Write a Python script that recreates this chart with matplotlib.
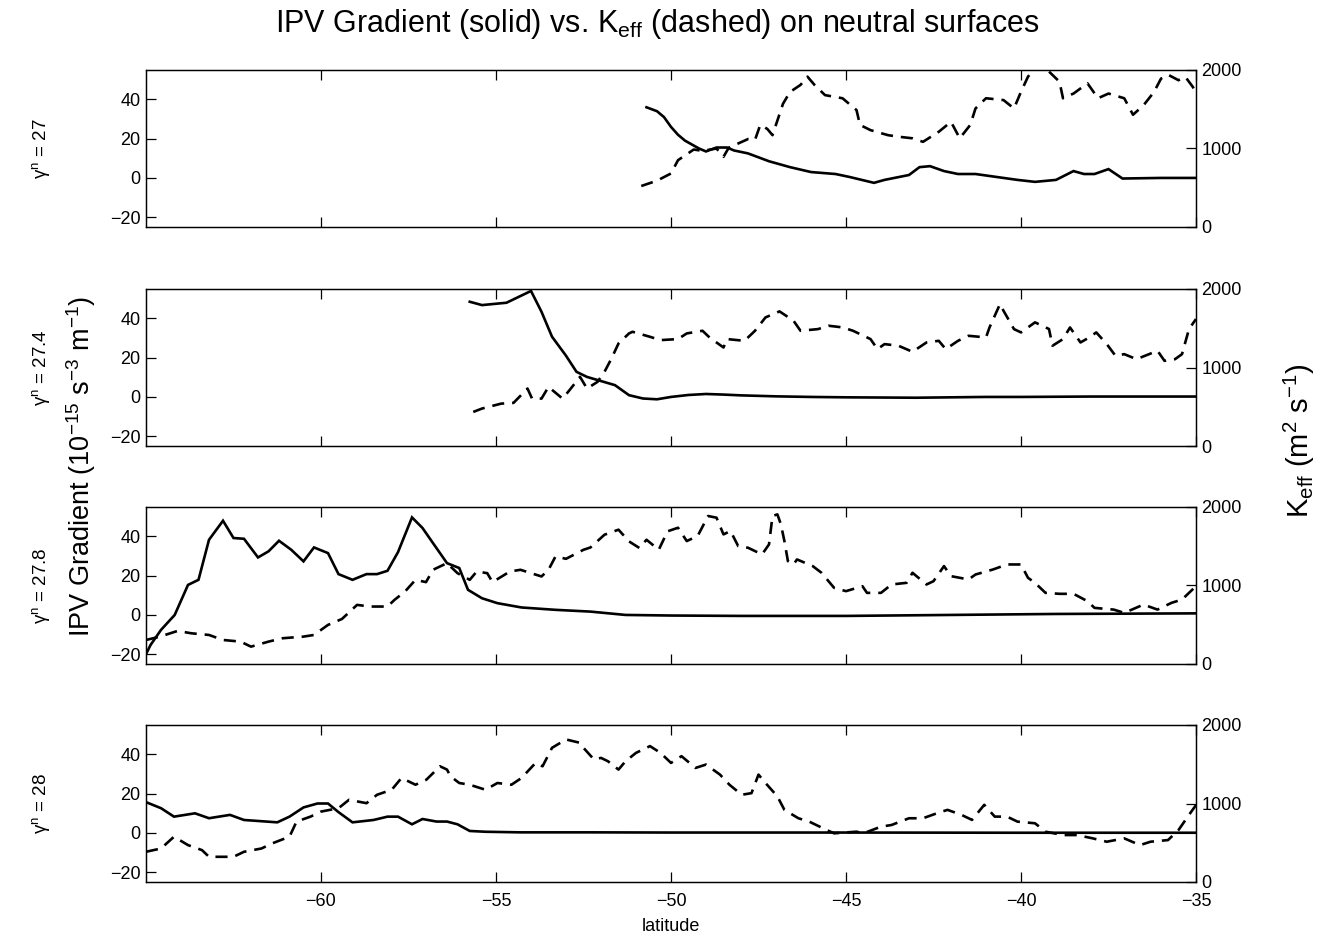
import matplotlib
matplotlib.use("Agg")
import matplotlib.pyplot as plt

plt.rcParams['font.family'] = ['Liberation Sans', 'DejaVu Sans']
plt.rcParams['mathtext.fontset'] = 'custom'
plt.rcParams['mathtext.rm'] = 'Liberation Sans'
plt.rcParams['mathtext.it'] = 'Liberation Sans:italic'
plt.rcParams['mathtext.bf'] = 'Liberation Sans:bold'

# ---------------- data ----------------
surface_labels = ['27', '27.4', '27.8', '28']

# gamma^n = 27
ipv27_lat = [-50.7, -50.4, -50.2, -50.0, -49.8, -49.6, -49.4, -49.2, -49.0, -48.7, -48.4, -48.2,
             -47.8, -47.2, -46.6, -46.0, -45.3, -44.9, -44.2, -43.9, -43.2, -42.9, -42.6, -42.2,
             -41.8, -41.3, -40.7, -40.1, -39.6, -39.0, -38.5, -38.2, -37.9, -37.5, -37.1, -36.0, -35.0]
ipv27 = [36, 34, 31, 26, 22, 19, 17, 15, 13.5, 15.5, 15.5, 14,
         12.5, 8.5, 5.5, 3, 2, 0.5, -2.5, -1, 1.5, 5.5, 6, 3.5,
         2, 2, 0.5, -1, -2, -1, 3.5, 2, 2, 4.5, -0.3, 0, 0]
keff27_lat = [-50.85, -50.4, -50.0, -49.8, -49.35, -49.1, -48.7, -48.5, -48.35, -48.0, -47.8, -47.6,
              -47.45, -47.25, -47.1, -46.8, -46.6, -46.3, -46.1, -45.9, -45.6, -45.1, -44.7, -44.6,
              -44.3, -43.8, -43.5, -43.1, -42.8, -42.35, -42.0, -41.75, -41.45, -41.3, -41.0, -40.5,
              -40.2, -40.0, -39.8, -39.5, -39.2, -38.9, -38.8, -38.5, -38.1, -37.8, -37.5, -37.05,
              -36.8, -36.5, -36.2, -36.0, -35.8, -35.5, -35.3, -35.1, -35.0]
keff27 = [522, 590, 682, 851, 987, 970, 1000, 894, 1010, 1080, 1120, 1110,
          1300, 1250, 1170, 1570, 1720, 1810, 1915, 1810, 1680, 1640, 1490, 1300,
          1234, 1170, 1150, 1130, 1085, 1213, 1340, 1130, 1300, 1510, 1640, 1617,
          1510, 1723, 1915, 2080, 1980, 1850, 1640, 1700, 1830, 1640, 1700, 1640,
          1430, 1550, 1720, 1890, 1940, 1870, 1910, 1790, 1720]

# gamma^n = 27.4
ipv274_lat = [-55.75, -55.4, -54.7, -54.0, -53.7, -53.4, -53.0, -52.7, -52.4, -51.6, -51.2, -50.8,
              -50.4, -50.0, -49.5, -49.0, -48.5, -48.0, -47.0, -46.0, -45.0, -44.0, -43.0, -42.0,
              -41.0, -40.0, -38.0, -35.0]
ipv274 = [48.5, 46.8, 48, 54, 43.4, 30.7, 21, 12.8, 10.2, 6, 0.9, -0.8,
          -1.2, 0, 1, 1.5, 1.2, 0.8, 0.3, 0, -0.2, -0.3, -0.4, -0.2,
          0, 0, 0.2, 0.2]
keff274_lat = [-55.65, -55.4, -54.85, -54.5, -54.1, -53.97, -53.7, -53.5, -53.1, -52.9, -52.6, -52.4,
               -52.1, -51.9, -51.7, -51.5, -51.2, -51.1, -50.6, -50.3, -49.8, -49.55, -49.1, -48.9,
               -48.5, -48.4, -47.9, -47.6, -47.3, -46.9, -46.5, -46.3, -45.8, -45.5, -45.1, -44.8,
               -44.3, -44.1, -43.9, -43.5, -43.1, -42.7, -42.35, -42.15, -41.8, -41.5, -41.0, -40.9,
               -40.6, -40.5, -40.2, -40.0, -39.6, -39.2, -39.1, -38.8, -38.6, -38.3, -38.05, -37.85,
               -37.55, -37.3, -37.05, -36.7, -36.1, -35.9, -35.6, -35.4, -35.2, -35.0]
keff274 = [434, 477, 540, 549, 732, 604, 604, 753, 604, 711, 881, 732,
           817, 945, 1115, 1306, 1434, 1455, 1391, 1349, 1362, 1434, 1468, 1383,
           1255, 1362, 1340, 1468, 1638, 1715, 1596, 1468, 1489, 1532, 1511, 1468,
           1362, 1234, 1298, 1277, 1200, 1319, 1340, 1234, 1340, 1404, 1383, 1510,
           1808, 1723, 1489, 1447, 1575, 1490, 1277, 1362, 1510, 1319, 1383, 1447,
           1298, 1149, 1170, 1106, 1213, 1085, 1106, 1170, 1490, 1617]

# gamma^n = 27.8
ipv278_lat = [-65.0, -64.87, -64.57, -64.18, -63.8, -63.5, -63.2, -62.8, -62.5, -62.2, -61.8, -61.5,
              -61.2, -60.85, -60.5, -60.2, -59.8, -59.5, -59.1, -58.7, -58.4, -58.1, -57.8, -57.4,
              -57.1, -56.8, -56.4, -56.05, -55.8, -55.4, -54.96, -54.27, -53.3, -52.3, -51.3, -50.0,
              -48.0, -45.0, -42.0, -39.0, -35.0]
ipv278 = [-20, -15.3, -7.6, 0, 15.3, 17.9, 38.3, 48, 39.2, 38.8, 29.3, 32.4,
          37.8, 33.2, 27.3, 34.4, 31.5, 20.8, 17.9, 20.8, 20.8, 22.5, 32, 49.7,
          44.3, 36.6, 26.4, 23.9, 12.8, 8.5, 6, 3.8, 2.6, 1.7, 0, -0.3,
          -0.5, -0.5, 0, 0.5, 0.8]
keff278_lat = [-65.0, -64.6, -64.1, -63.7, -63.2, -62.8, -62.3, -62.0, -61.5, -61.1, -60.5, -60.2,
               -59.8, -59.4, -58.97, -58.6, -58.1, -57.9, -57.6, -57.3, -57.0, -56.8, -56.4, -56.1,
               -55.75, -55.55, -55.25, -55.1, -54.6, -54.3, -53.7, -53.5, -53.3, -53.0, -52.5, -52.3,
               -51.9, -51.5, -51.2, -50.9, -50.7, -50.35, -50.1, -49.8, -49.55, -49.24, -48.94, -48.7,
               -48.5, -48.3, -48.08, -47.8, -47.4, -47.2, -47.1, -46.96, -46.86, -46.76, -46.66, -46.5,
               -46.4, -45.95, -45.7, -45.34, -45.0, -44.53, -44.4, -44.0, -43.7, -43.27, -43.1, -42.7,
               -42.5, -42.2, -42.0, -41.5, -41.3, -40.8, -40.4, -40.0, -39.8, -39.6, -39.3, -38.9,
               -38.5, -38.1, -37.9, -37.35, -37.05, -36.5, -36.1, -35.7, -35.4, -35.05]
keff278 = [306, 349, 421, 391, 370, 306, 285, 221, 285, 328, 349, 370,
           498, 574, 753, 732, 732, 817, 923, 1072, 1043, 1200, 1285, 1157,
           1072, 1179, 1157, 1043, 1179, 1200, 1115, 1200, 1370, 1340, 1455, 1485,
           1647, 1711, 1562, 1477, 1583, 1455, 1690, 1736, 1566, 1630, 1885, 1864,
           1651, 1694, 1502, 1481, 1396, 1523, 1885, 1906, 1779, 1566, 1311, 1268,
           1332, 1247, 1162, 970, 928, 991, 906, 906, 1013, 1034, 1162, 1013,
           1055, 1247, 1119, 1077, 1140, 1204, 1268, 1268, 1098, 1034, 906, 894,
           894, 800, 715, 693, 651, 757, 693, 779, 821, 970]

# gamma^n = 28
ipv28_lat = [-65.0, -64.57, -64.2, -63.6, -63.2, -62.6, -62.2, -61.8, -61.25, -60.9, -60.5, -60.1,
             -59.8, -59.5, -59.1, -58.5, -58.1, -57.8, -57.4, -57.1, -56.7, -56.4, -56.1, -55.75,
             -55.3, -54.3, -52.3, -50.0, -45.0, -40.0, -35.0]
ipv28 = [15.7, 12.6, 8.3, 10, 7.5, 9.2, 6.6, 6.1, 5.4, 8.3, 13, 15,
         15, 10.6, 5.4, 6.6, 8.3, 8.3, 4.4, 7.1, 5.8, 5.8, 4.4, 1,
         0.6, 0.3, 0.3, 0.2, 0.2, 0.1, 0.1]
keff28_lat = [-65.0, -64.57, -64.2, -63.8, -63.4, -63.2, -63.0, -62.5, -62.2, -61.7, -61.4, -60.9,
              -60.7, -60.3, -60.0, -59.5, -59.2, -58.7, -58.4, -57.98, -57.7, -57.3, -56.99, -56.6,
              -56.4, -56.3, -56.05, -55.75, -55.3, -54.96, -54.56, -54.27, -53.87, -53.67, -53.4, -53.0,
              -52.6, -52.5, -52.2, -52.0, -51.8, -51.5, -51.3, -51.0, -50.6, -50.3, -50.0, -49.7,
              -49.3, -49.0, -48.6, -48.33, -47.98, -47.7, -47.5, -47.3, -46.96, -46.76, -46.36, -46.05,
              -45.55, -45.34, -44.7, -44.5, -44.0, -43.7, -43.2, -42.8, -42.4, -42.1, -41.7, -41.4,
              -41.05, -40.75, -40.4, -40.1, -39.6, -39.3, -38.8, -38.4, -37.95, -37.55, -37.05, -36.6,
              -36.3, -35.8, -35.5, -35.2, -35.0]
keff28 = [385, 427, 577, 470, 406, 321, 321, 321, 385, 427, 491, 577,
          769, 833, 897, 940, 1047, 1004, 1111, 1175, 1325, 1239, 1303, 1474,
          1432, 1346, 1261, 1239, 1175, 1261, 1239, 1325, 1517, 1474, 1709, 1816,
          1773, 1709, 1560, 1581, 1538, 1432, 1538, 1645, 1731, 1645, 1517, 1603,
          1453, 1496, 1368, 1239, 1111, 1132, 1368, 1261, 1090, 919, 812, 769,
          662, 620, 641, 620, 705, 726, 812, 812, 876, 919, 855, 791,
          983, 833, 833, 769, 748, 641, 598, 598, 556, 513, 556, 470,
          513, 534, 662, 855, 980]

ipv_lats = [ipv27_lat, ipv274_lat, ipv278_lat, ipv28_lat]
ipv_vals = [ipv27, ipv274, ipv278, ipv28]
keff_lats = [keff27_lat, keff274_lat, keff278_lat, keff28_lat]
keff_vals = [keff27, keff274, keff278, keff28]

x_ticks = [-60, -55, -50, -45, -40, -35]
ipv_ticks = [-20, 0, 20, 40]
keff_ticks = [0, 1000, 2000]

# ---------------- figure ----------------
W, H = 1323, 943
fig = plt.figure(figsize=(W / 100, H / 100), dpi=100)

left = 146 / W
width = (1196 - 146) / W
tops_px = [70, 289, 507, 725]
height_px = 157

tick_fs = 13
for i in range(4):
    b = 1 - (tops_px[i] + height_px) / H
    ax = fig.add_axes([left, b, width, height_px / H])
    ax2 = ax.twinx()
    ax.plot(ipv_lats[i], ipv_vals[i], color='black', lw=1.9, solid_joinstyle='miter')
    ax2.plot(keff_lats[i], keff_vals[i], color='black', lw=1.9, dashes=(4.6, 3.0))
    ax.set_xlim(-65, -35)
    ax.set_ylim(-25, 55)
    ax2.set_ylim(0, 2000)
    ax.set_xticks(x_ticks)
    ax.set_yticks(ipv_ticks)
    ax2.set_yticks(keff_ticks)
    ax.tick_params(axis='x', direction='in', top=True, bottom=True, length=7, width=0.9,
                   labelsize=tick_fs, pad=8)
    ax.tick_params(axis='y', direction='in', left=True, right=False, length=7, width=0.9,
                   labelsize=tick_fs, pad=4)
    ax2.tick_params(axis='y', direction='in', right=True, length=7, width=0.9,
                    labelsize=tick_fs, pad=4)
    ax2.set_yticklabels([str(t) for t in keff_ticks])
    ax.set_yticklabels(['\u221220', '0', '20', '40'])
    for a in (ax, ax2):
        for s in a.spines.values():
            s.set_linewidth(0.9)
    if i < 3:
        ax.set_xticklabels([])
    else:
        ax.set_xticklabels(['\u221260', '\u221255', '\u221250', '\u221245', '\u221240', '\u221235'])
        ax.set_xlabel('latitude', fontsize=13, labelpad=6)
    yc = 1 - (tops_px[i] + height_px / 2) / H
    fig.text(0.031, yc, '\u03b3$^{\\rm n}$ = ' + surface_labels[i], rotation=90,
             ha='center', va='center', fontsize=13.5)

fig.text(0.497, 0.975, r'IPV Gradient (solid) vs. K$_{\rm eff}$ (dashed) on neutral surfaces',
         ha='center', va='center', fontsize=22)
fig.text(0.061, 0.505, r'IPV Gradient (10$^{-15}$ s$^{-3}$ m$^{-1}$)', rotation=90,
         ha='center', va='center', fontsize=19.5)
fig.text(0.982, 0.533, r'K$_{\rm eff}$ (m$^{2}$ s$^{-1}$)', rotation=90,
         ha='center', va='center', fontsize=21)

fig.savefig('out.png', dpi=100)
